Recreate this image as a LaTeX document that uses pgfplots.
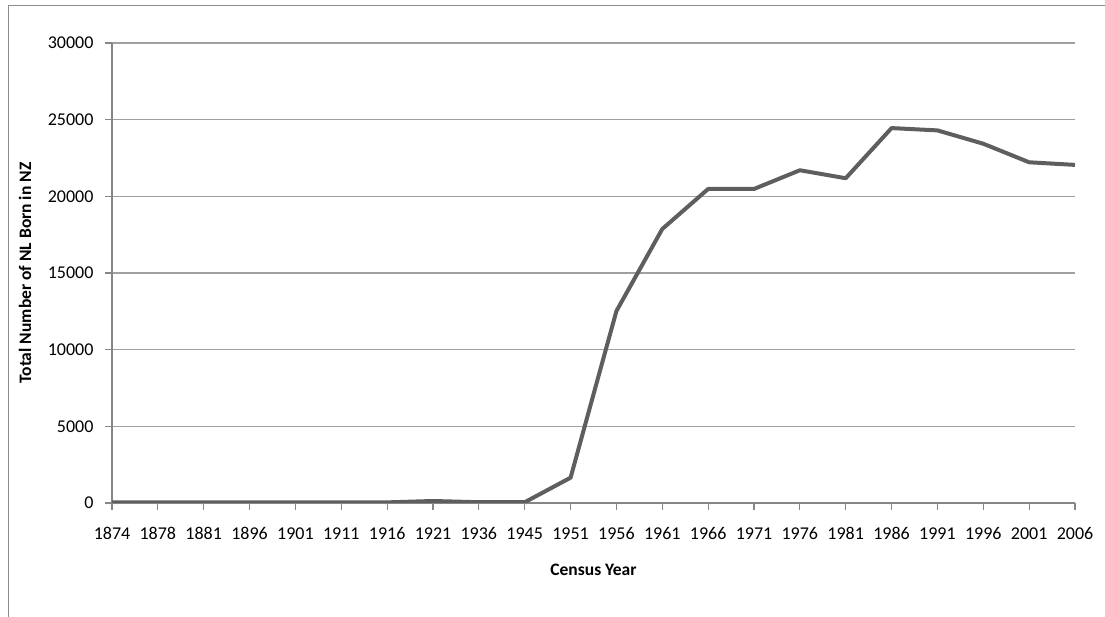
\documentclass[border=0pt]{standalone}
\usepackage{fontspec}
\setmainfont{Carlito}
\usepackage{pgfplots}
\pgfplotsset{compat=1.18}
\definecolor{linegray}{RGB}{94,94,94}
\definecolor{gridgray}{RGB}{160,160,160}
\definecolor{axisgray}{RGB}{134,134,134}
\definecolor{framegray}{RGB}{140,140,140}

\begin{document}
\begin{tikzpicture}[x=1pt,y=1pt]
\path[use as bounding box] (0,0) rectangle (1105,617);
\draw[framegray, line width=1pt] (8,0) -- (8,611.5) -- (1105,611.5);
\begin{axis}[
    at={(112pt,114pt)}, anchor=south west,
    scale only axis,
    width=963pt, height=460pt,
    xmin=0, xmax=21,
    ymin=0, ymax=30000,
    xtick={0,...,21},
    xticklabels={1874,1878,1881,1896,1901,1911,1916,1921,1936,1945,1951,1956,1961,1966,1971,1976,1981,1986,1991,1996,2001,2006},
    ytick={0,5000,10000,15000,20000,25000,30000},
    scaled y ticks=false,
    /pgf/number format/.cd, 1000 sep={}, assume math mode=true, /pgfplots/.cd,
    axis x line*=bottom, axis y line*=left,
    axis line style={axisgray, line width=1.2pt, -},
    tick style={axisgray, line width=1.2pt},
    tick align=outside,
    major tick length=7pt,
    ymajorgrids=true,
    grid style={gridgray, line width=1.2pt},
    ticklabel style={font=\fontsize{18}{21}\selectfont, text=black},
    xticklabel style={yshift=-14pt},
    yticklabel style={xshift=-8pt},
    xlabel={\bfseries Census Year},
    ylabel={\bfseries Total Number of NL Born in NZ},
    label style={font=\fontsize{17.5}{20}\selectfont},
    xlabel style={at={(axis description cs:0.5,-0.1457)}, anchor=center},
    ylabel style={at={(axis description cs:-0.0903,0.5)}, anchor=center},
]
\addplot[linegray, line width=4pt, line join=round] coordinates {
(0,40)(1,40)(2,40)(3,40)(4,40)(5,40)(6,40)(7,130)(8,50)(9,50)
(10,1650)(11,12520)(12,17870)(13,20480)(14,20480)(15,21700)(16,21180)
(17,24450)(18,24300)(19,23430)(20,22220)(21,22050)
};
\end{axis}
\end{tikzpicture}
\end{document}
